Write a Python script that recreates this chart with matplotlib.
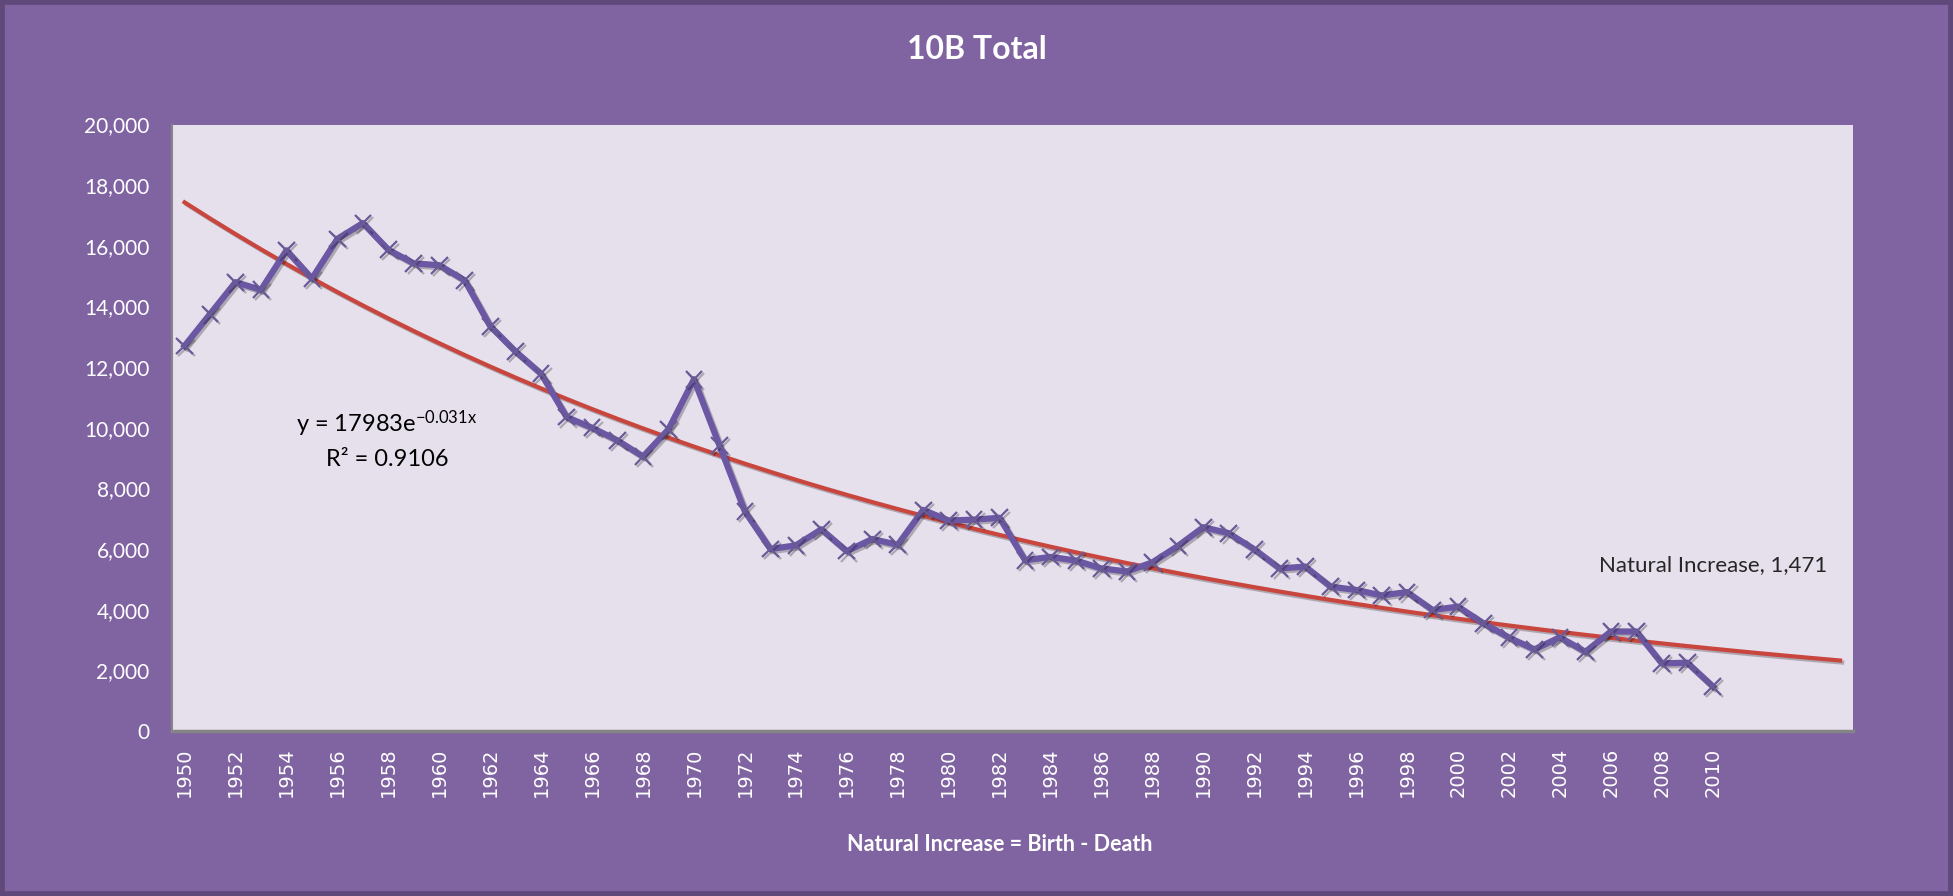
import numpy as np
import matplotlib
matplotlib.use("Agg")
import matplotlib.pyplot as plt
import matplotlib.patheffects as pe
from matplotlib.patches import Rectangle
from matplotlib.ticker import FuncFormatter

plt.rcParams['font.family'] = ['Lato', 'DejaVu Sans']
plt.rcParams['mathtext.default'] = 'regular'

# ---------------- data ----------------
years = list(range(1950, 2016))          # category axis runs to 2015
natural_increase = [
    12700, 13750, 14800, 14550, 15850, 14920, 16230, 16750, 15870, 15420,
    15360, 14860, 13350, 12510, 11780, 10350, 10000, 9580, 9050, 9950,
    11600, 9420, 7240, 6000, 6120, 6650, 5930, 6330, 6140, 7290,
    6940, 6970, 7030, 5630, 5740, 5620, 5360, 5260, 5560, 6100,
    6720, 6520, 5990, 5360, 5420, 4760, 4650, 4470, 4580, 3990,
    4100, 3550, 3080, 2690, 3090, 2610, 3280, 3280, 2230, 2250,
    1471,
]
tick_years = list(range(1950, 2011, 2))
trend_a, trend_b = 17983, -0.031          # y = 17983e^(-0.031x)

# ---------------- colours ----------------
bg_purple = '#8064A2'
frame_purple = '#5F497A'
plot_bg = '#E6E0EC'
line_col = '#6B57A3'
trend_col = '#C8463E'

fig = plt.figure(figsize=(19.53, 8.96), dpi=100, facecolor=bg_purple)
fig.patches.append(Rectangle((0, 0), 1, 1, transform=fig.transFigure,
                             fill=False, edgecolor=frame_purple, linewidth=7))
ax = fig.add_axes([0.088, 0.1842, 0.8607, 0.6768])
ax.set_facecolor(plot_bg)

idx = np.arange(len(years))
trend_x = idx + 1
trend_y = trend_a * np.exp(trend_b * trend_x)

shadow = [pe.SimpleLineShadow(offset=(1.5, -1.5), alpha=0.25), pe.Normal()]
ax.plot(idx, trend_y, color=trend_col, lw=3, zorder=2, path_effects=shadow)
ax.plot(idx[:len(natural_increase)], natural_increase, color=line_col, lw=4.5,
        marker='x', markersize=12, markeredgewidth=1.6, markeredgecolor='#6A5A98',
        zorder=3, path_effects=shadow)

ax.set_xlim(-0.5, len(years) - 0.5)
ax.set_ylim(0, 20000)
ax.set_yticks(range(0, 20001, 2000))
ax.yaxis.set_major_formatter(FuncFormatter(lambda v, p: f'{int(v):,}'))
ax.set_xticks([years.index(y) for y in tick_years])
ax.set_xticklabels([str(y) for y in tick_years], rotation=90,
                   family='DejaVu Sans', fontsize=14, color='white')
ax.tick_params(axis='x', length=0, pad=12)
ax.tick_params(axis='y', length=0, pad=16, labelsize=15, labelcolor='white')

for s in ['top', 'right']:
    ax.spines[s].set_visible(False)
ax.spines['bottom'].set_color('#858585')
ax.spines['bottom'].set_linewidth(2.5)
ax.spines['left'].set_color('#858585')
ax.spines['left'].set_linewidth(1.5)

# trendline equation
ax.text(0.128, 0.506, r'y = 17983e$^{-0.031x}$', transform=ax.transAxes,
        ha='center', va='center', fontsize=17, color='black')
ax.text(0.128, 0.448, 'R² = 0.9106', transform=ax.transAxes,
        ha='center', va='center', fontsize=17, color='black')

# data label for last point
last = len(natural_increase) - 1
ax.annotate(f'Natural Increase, {natural_increase[-1]:,}',
            xy=(last, natural_increase[-1]), xytext=(0, 87),
            textcoords='offset points', ha='center', va='center',
            fontsize=16, color='#262626')

fig.text(0.5, 0.945, '10B Total', ha='center', va='center',
         fontsize=23, fontweight='bold', color='white')
fig.text(0.512, 0.057, 'Natural Increase = Birth - Death', ha='center',
         va='center', fontsize=15.5, fontweight='bold', color='white')

fig.savefig('out.png', dpi=100, facecolor=bg_purple)
